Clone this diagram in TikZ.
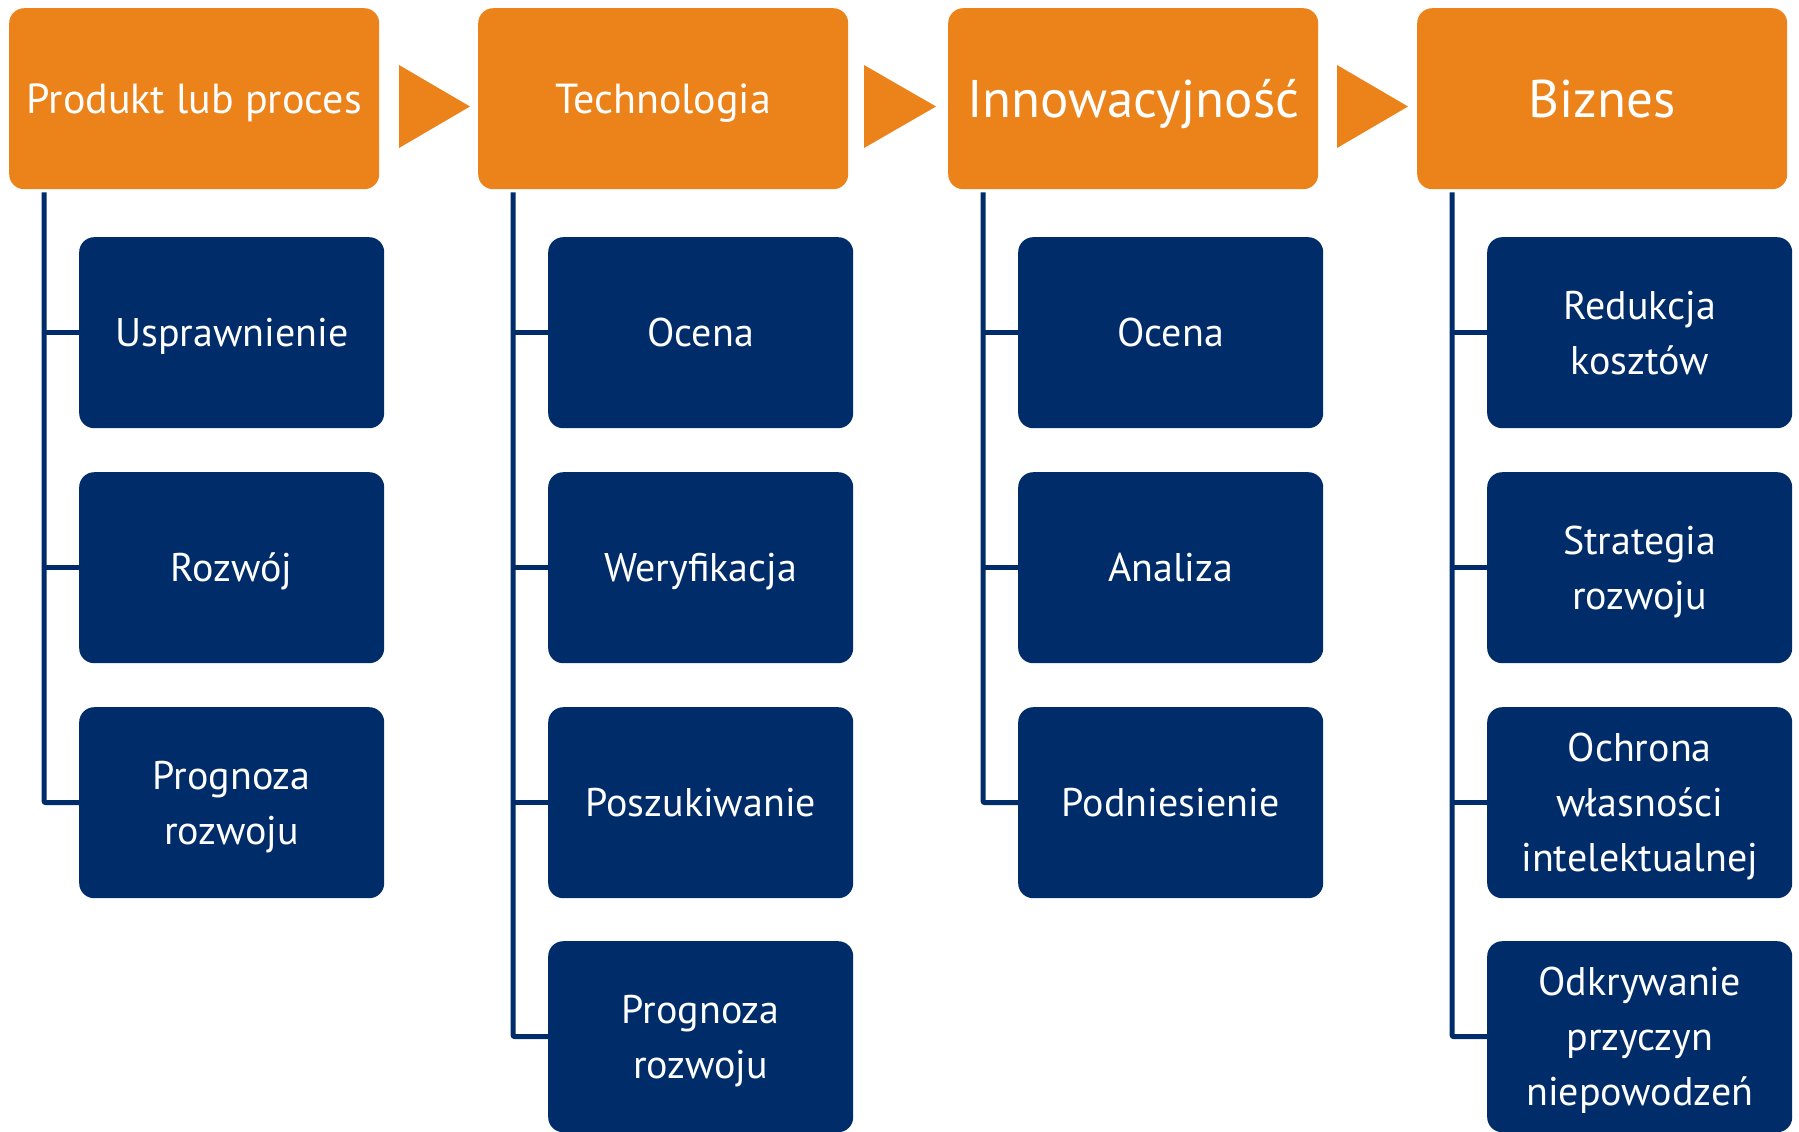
\documentclass[tikz,border=0pt]{standalone}
\usepackage{fontspec}
\setmainfont{PT Sans}
\definecolor{org}{RGB}{236,130,26}
\definecolor{nav}{RGB}{0,45,106}
\newcommand\firstln[1]{\raisebox{0pt}[0.7em]{#1}}
\newcommand\lastln[1]{\raisebox{0pt}[\height][0pt]{#1}}
\begin{document}
\begin{tikzpicture}[x=1pt,y=-1pt,
 head/.style={fill=org, rounded corners=15pt, minimum width=370pt, minimum height=181pt, text=white, font=\fontsize{42}{50}\selectfont, inner sep=0pt, anchor=north west, text height=29.4pt, text depth=0pt},
 bighead/.style={head, font=\fontsize{53}{60}\selectfont, text height=37.1pt},
 sub/.style={fill=nav, rounded corners=15pt, minimum width=305pt, minimum height=191pt, text=white, align=center, font=\fontsize{40}{55}\selectfont, inner sep=0pt, anchor=north west},
 one/.style={sub, text height=28pt, text depth=0pt},
 link/.style={draw=nav, line width=5pt, rounded corners=2pt},
 tri/.style={fill=org}]
\useasboundingbox (0,0) rectangle (1799,1132);
% headers
\node[head] (h1) at (9,8) {Produkt lub proces};
\node[head] (h2) at (478,8) {Technologia};
\node[bighead] (h3) at (948,8) {Innowacyjność};
\node[bighead] (h4) at (1417,8) {Biznes};
% triangles
\fill[tri] (399,65) -- (470,106.5) -- (399,148) -- cycle;
\fill[tri] (864,65) -- (936,106.5) -- (864,148) -- cycle;
\fill[tri] (1337,65) -- (1408,106.5) -- (1337,148) -- cycle;
% column 1
\node[one] (s1a) at (79,237) {Usprawnienie};
\node[one] (s1b) at (79,472) {Rozwój};
\node[sub] (s1c) at (79,707) {\firstln{Prognoza}\\\lastln{rozwoju}};
% column 2
\node[one] (s2a) at (548,237) {Ocena};
\node[one] (s2b) at (548,472) {Weryfikacja};
\node[one] (s2c) at (548,707) {Poszukiwanie};
\node[sub] (s2d) at (548,941) {\firstln{Prognoza}\\\lastln{rozwoju}};
% column 3
\node[one] (s3a) at (1018,237) {Ocena};
\node[one] (s3b) at (1018,472) {Analiza};
\node[one] (s3c) at (1018,707) {Podniesienie};
% column 4
\node[sub] (s4a) at (1487,237) {\firstln{Redukcja}\\\lastln{kosztów}};
\node[sub] (s4b) at (1487,472) {\firstln{Strategia}\\\lastln{rozwoju}};
\node[sub] (s4c) at (1487,707) {\firstln{Ochrona}\\własności\\\lastln{intelektualnej}};
\node[sub] (s4d) at (1487,941) {\firstln{Odkrywanie}\\przyczyn\\\lastln{niepowodzeń}};
% connectors
\coordinate (t1) at ([xshift=35pt,yshift=-3pt]h1.south west);
\coordinate (t2) at ([xshift=35pt,yshift=-3pt]h2.south west);
\coordinate (t3) at ([xshift=35pt,yshift=-3pt]h3.south west);
\coordinate (t4) at ([xshift=35pt,yshift=-3pt]h4.south west);
\draw[link] (t1) |- (s1c.west);
\draw[link] (s1a.west) -- (s1a.west -| t1);
\draw[link] (s1b.west) -- (s1b.west -| t1);
\draw[link] (t2) |- (s2d.west);
\draw[link] (s2a.west) -- (s2a.west -| t2);
\draw[link] (s2b.west) -- (s2b.west -| t2);
\draw[link] (s2c.west) -- (s2c.west -| t2);
\draw[link] (t3) |- (s3c.west);
\draw[link] (s3a.west) -- (s3a.west -| t3);
\draw[link] (s3b.west) -- (s3b.west -| t3);
\draw[link] (t4) |- (s4d.west);
\draw[link] (s4a.west) -- (s4a.west -| t4);
\draw[link] (s4b.west) -- (s4b.west -| t4);
\draw[link] (s4c.west) -- (s4c.west -| t4);
\end{tikzpicture}
\end{document}
